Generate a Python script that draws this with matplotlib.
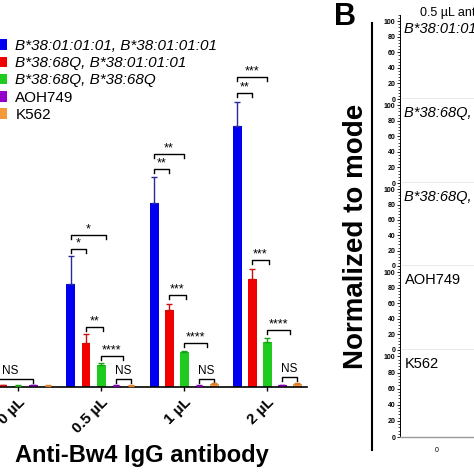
import numpy as np
import matplotlib.pyplot as plt
from matplotlib.ticker import MultipleLocator, AutoMinorLocator

plt.rcParams['font.family'] = ['Liberation Sans', 'DejaVu Sans']

W = 474.0  # figure size in px, used for placing axes

doses = ['0 µL', '0.5 µL', '1 µL', '2 µL']
genotypes = ['B*38:01:01:01, B*38:01:01:01', 'B*38:68Q, B*38:01:01:01',
             'B*38:68Q, B*38:68Q', 'AOH749', 'K562']
colors = ['#0000f0', '#f20000', '#1ecb1e', '#9400c8', '#f59a3c']
err_colors = ['#2a2a9c', '#c81010', '#18a018', '#7a00a8', '#d88030']

# mean signal and SD (arbitrary units) per genotype, one value per dose
blue = [2, 103, 184, 261]
blue_sd = [1, 28, 26, 24]
red = [2, 44, 77, 108]
red_sd = [0.5, 9, 6, 10]
green = [1.5, 22, 35, 45]
green_sd = [0.3, 2, 1.5, 4]
purple = [2, 1.5, 1.5, 2]
purple_sd = [0.5, 0.5, 0.5, 0.5]
orange = [1.5, 1.5, 3, 3]
orange_sd = [0.5, 0.5, 1, 1]

means = [blue, red, green, purple, orange]
sds = [blue_sd, red_sd, green_sd, purple_sd, orange_sd]

# significance brackets: (dose, first bar, last bar, height, label)
stats = [
    (0, 0, 3, 8, 'NS'),
    (1, 0, 1, 138, '*'), (1, 0, 2.3, 152, '*'), (1, 1, 2.1, 60, '**'),
    (1, 2, 3.45, 31, '****'), (1, 3, 4, 8, 'NS'),
    (2, 0, 1, 218, '**'), (2, 0, 2, 233, '**'), (2, 1, 2.1, 92, '***'),
    (2, 2, 3.5, 44, '****'), (2, 3, 4, 8, 'NS'),
    (3, 0, 1, 294, '**'), (3, 0, 2, 310, '***'), (3, 1, 2.1, 127, '***'),
    (3, 2, 3.5, 57, '****'), (3, 3, 4, 10, 'NS'),
]

hist_labels = ['B*38:01:01:01, B*38:01:01:01', 'B*38:68Q, B*38:01:01:01',
               'B*38:68Q, B*38:68Q', 'AOH749', 'K562']
hist_italic = [True, True, True, False, False]

fig = plt.figure(figsize=(4.74, 4.74), dpi=100)

# ---- panel A: bar chart ----
ax = fig.add_axes([-36 / W, 87 / W, 343 / W, 330 / W])
step = 0.181
bw = 0.108
x = np.arange(len(doses))
handles = []
for i in range(5):
    pos = x + (i - 2) * step
    b = ax.bar(pos, means[i], bw, color=colors[i], label=genotypes[i], zorder=2)
    ax.errorbar(pos, means[i], yerr=[np.zeros(4), sds[i]], fmt='none',
                ecolor=err_colors[i], elinewidth=1, capsize=2, capthick=1, zorder=3)
    handles.append(b)

for d, k1, k2, h, lab in stats:
    x1 = d + (k1 - 2) * step
    x2 = d + (k2 - 2) * step
    ax.plot([x1, x1, x2, x2], [h - 4, h, h, h - 4], color='k', lw=1, clip_on=False)
    if lab == 'NS':
        ax.text((x1 + x2) / 2, h + 8, lab, ha='center', va='center', fontsize=8.5, clip_on=False)
    else:
        ax.text((x1 + x2) / 2, h + 6, lab, ha='center', va='center', fontsize=9, clip_on=False)

ax.set_xlim(-0.65, 3.48)
ax.set_ylim(0, 330)
for s in ['left', 'right', 'top']:
    ax.spines[s].set_visible(False)
ax.spines['bottom'].set_linewidth(1.2)
ax.set_yticks([])
ax.set_xticks(x)
ax.set_xticklabels(doses, rotation=45, ha='right', va='top', rotation_mode='anchor',
                   fontsize=11, fontweight='bold')
ax.tick_params(axis='x', length=3, width=1, pad=3)

leg = ax.legend(handles=handles, loc='upper left', bbox_to_anchor=(-3 / W, 1 - 39 / W),
                bbox_transform=fig.transFigure, frameon=False, fontsize=11,
                handlelength=0.65, handleheight=0.7, handletextpad=0.55,
                labelspacing=0.21, borderpad=0, borderaxespad=0)
for t, it in zip(leg.get_texts(), hist_italic):
    if it:
        t.set_fontstyle('italic')

fig.text(142 / W, 1 - 462 / W, 'Anti-Bw4 IgG antibody', ha='center', va='baseline',
         fontsize=17, fontweight='bold')

# ---- panel B: histogram stack (content lies outside the crop) ----
fig.text(334 / W, 1 - 17 / W, 'B', fontsize=22, fontweight='bold', va='center')
fig.text(420 / W, 1 - 13 / W, '0.5 µL anti-Bw4 IgG antibody', fontsize=9, va='center')

ax_out = fig.add_axes([372 / W, 24 / W, 1 / W, 427 / W])
ax_out.set_xticks([])
ax_out.set_yticks([])
for s in ['right', 'top', 'bottom']:
    ax_out.spines[s].set_visible(False)
ax_out.spines['left'].set_linewidth(1.5)
ax_out.patch.set_visible(False)
ax_out.set_ylabel('Normalized to mode', fontsize=20, fontweight='bold', labelpad=2)

tops = [15, 99, 183, 266, 350]
bottoms = [99, 183, 266, 350, 437]
for j in range(5):
    h = bottoms[j] - tops[j]
    hx = fig.add_axes([400 / W, 1 - bottoms[j] / W, 300 / W, h / W])
    hx.set_ylim(0, 108)
    hx.set_xlim(-37, 263)
    hx.yaxis.set_major_locator(MultipleLocator(20))
    hx.yaxis.set_minor_locator(AutoMinorLocator(5))
    hx.tick_params(axis='y', which='major', labelsize=5, length=2.5, width=0.6, pad=1)
    hx.tick_params(axis='y', which='minor', length=1.2, width=0.5)
    for lbl in hx.get_yticklabels():
        lbl.set_fontweight('bold')
    for s in ['right', 'top']:
        hx.spines[s].set_visible(False)
    hx.spines['left'].set_linewidth(0.7)
    hx.spines['bottom'].set_color('#9a9a9a')
    hx.spines['bottom'].set_linewidth(1)
    if j == 4:
        hx.set_xticks([0])
        hx.tick_params(axis='x', labelsize=5, length=0, pad=7)
    else:
        hx.set_xticks([])
    hx.text(0.015, 1 - 14 / h, hist_labels[j], transform=hx.transAxes, va='center',
            fontsize=10.5, fontstyle='italic' if hist_italic[j] else 'normal')

fig.savefig('out.png', dpi=100)
